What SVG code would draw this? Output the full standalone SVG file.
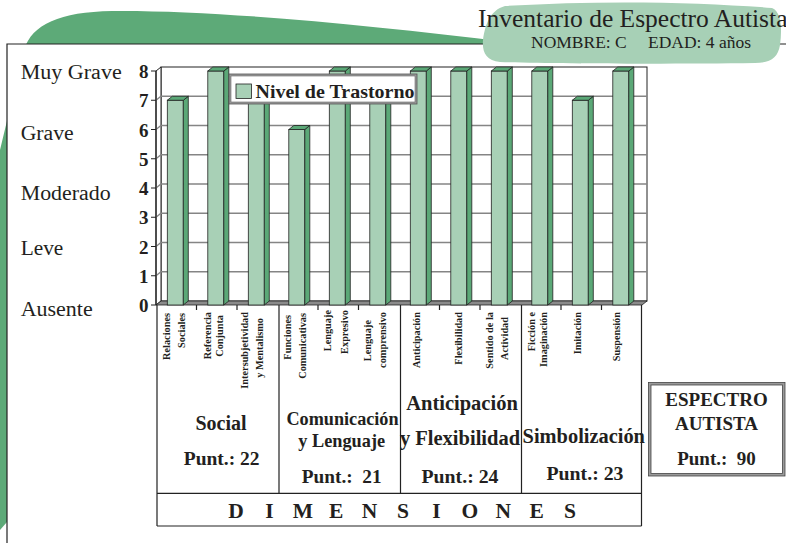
<svg xmlns="http://www.w3.org/2000/svg" width="786" height="543" viewBox="0 0 786 543">
<style>
.serif{font-family:"Liberation Serif","Times New Roman",serif;fill:#231f20}
.lv{font-size:20px}
.yl{font-size:19px;font-weight:bold;text-anchor:end}
.cat{font-size:10.3px;font-weight:bold;text-anchor:end}
.dim{font-weight:bold;text-anchor:middle}
.bf{fill:#a8d0b6;stroke:#222;stroke-width:0.8}
.bs{fill:#5ba877;stroke:#222;stroke-width:0.8}
.grid{stroke:#858585;stroke-width:1.3;fill:none}
.ln{stroke:#222;stroke-width:1.2;fill:none}
</style>
<defs>
<g id="b8"><rect class="bf" x="0" y="71" width="16" height="234"/><polygon class="bs" points="16,305 16,71 21,67 21,301"/><polygon class="bs" points="0,71 16,71 21,67 5,67"/></g>
<g id="b7"><rect class="bf" x="0" y="100.25" width="16" height="204.75"/><polygon class="bs" points="16,305 16,100.25 21,96.25 21,301"/><polygon class="bs" points="0,100.25 16,100.25 21,96.25 5,96.25"/></g>
<g id="b6"><rect class="bf" x="0" y="129.5" width="16" height="175.5"/><polygon class="bs" points="16,305 16,129.5 21,125.5 21,301"/><polygon class="bs" points="0,129.5 16,129.5 21,125.5 5,125.5"/></g>
</defs>

<g id="background">
<path d="M0,150 L24,50 C32,24 60,12 112,11 C220,10 380,26 540,46 L540,60 L7,60 L7,522 L0,530 Z" fill="#5daa78"/>
<rect x="7" y="44" width="779" height="499" fill="#fff"/>
<path d="M7,543 V44 H786" class="ln" stroke-width="1"/>
<path d="M505,6 C600,0 700,2 772,8 C782,12 782,30 780,45 C778,58 770,63 755,63 C680,64 560,64 500,62 C486,61 482,52 483,40 C485,25 490,10 505,6 Z" fill="#a7d0b6"/>
</g>

<g id="header">
<text class="serif" x="478" y="27" font-size="25.5">Inventario de Espectro Autista</text>
<text class="serif" x="531" y="47.5" font-size="17.5">NOMBRE: C</text>
<text class="serif" x="648" y="47.5" font-size="17.5">EDAD: 4 años</text>
</g>

<g id="levels">
<text class="serif lv" x="20.7" y="79.3" textLength="101" lengthAdjust="spacingAndGlyphs">Muy Grave</text>
<text class="serif lv" x="20.7" y="140" textLength="53" lengthAdjust="spacingAndGlyphs">Grave</text>
<text class="serif lv" x="20.7" y="200" textLength="90" lengthAdjust="spacingAndGlyphs">Moderado</text>
<text class="serif lv" x="20.7" y="255" textLength="42.6" lengthAdjust="spacingAndGlyphs">Leve</text>
<text class="serif lv" x="20.7" y="316" textLength="72" lengthAdjust="spacingAndGlyphs">Ausente</text>
</g>

<g id="chart">
<rect x="161" y="67" width="486" height="234" fill="#fff" stroke="#222" stroke-width="1"/>
<polygon points="156,71 161,67 161,301 156,305" fill="#fff" stroke="#222" stroke-width="1"/>
<path class="grid" d="M156,275.75 L161,271.75 H647 M156,246.5 L161,242.5 H647 M156,217.25 L161,213.25 H647 M156,188 L161,184 H647 M156,158.75 L161,154.75 H647 M156,129.5 L161,125.5 H647 M156,100.25 L161,96.25 H647"/>
<polygon points="156,305 642,305 647,301 161,301" fill="#8a8a8a" stroke="#222" stroke-width="0.8"/>
<use href="#b7" x="167.3"/>
<use href="#b8" x="207.8"/>
<use href="#b7" x="248.3"/>
<use href="#b6" x="288.8"/>
<use href="#b8" x="329.3"/>
<use href="#b7" x="369.8"/>
<use href="#b8" x="410.3"/>
<use href="#b8" x="450.8"/>
<use href="#b8" x="491.3"/>
<use href="#b8" x="531.8"/>
<use href="#b7" x="572.3"/>
<use href="#b8" x="612.8"/>
<path class="ln" stroke-width="1" d="M156,71 V305 M151,71 H156 M151,100.25 H156 M151,129.5 H156 M151,158.75 H156 M151,188 H156 M151,217.25 H156 M151,246.5 H156 M151,275.75 H156 M151,305 H156"/>
<path class="ln" stroke-width="1" d="M196.5,305 V310 M237,305 V310 M318,305 V310 M358.5,305 V310 M439.5,305 V310 M480,305 V310 M561,305 V310 M601.5,305 V310"/>
<text class="serif yl" x="148.5" y="78">8</text>
<text class="serif yl" x="148.5" y="107.25">7</text>
<text class="serif yl" x="148.5" y="136.5">6</text>
<text class="serif yl" x="148.5" y="165.75">5</text>
<text class="serif yl" x="148.5" y="195">4</text>
<text class="serif yl" x="148.5" y="224.25">3</text>
<text class="serif yl" x="148.5" y="253.5">2</text>
<text class="serif yl" x="148.5" y="282.75">1</text>
<text class="serif yl" x="148.5" y="312">0</text>
</g>

<g id="legend">
<rect x="229" y="74" width="188" height="30" fill="#9a9a9a" stroke="#555" stroke-width="0.8"/>
<rect x="231" y="76" width="184" height="26" fill="#fff" stroke="#666" stroke-width="0.6"/>
<rect class="bf" x="236" y="84" width="15.5" height="14.5"/>
<text class="serif" x="255.5" y="97.5" font-size="19.5" font-weight="bold" textLength="159" lengthAdjust="spacingAndGlyphs">Nivel de Trastorno</text>
</g>

<g id="categories">
<text class="serif cat" transform="translate(169.5,313) rotate(-90)">Relaciones</text>
<text class="serif cat" transform="translate(185,313) rotate(-90)">Sociales</text>
<text class="serif cat" transform="translate(210.5,312) rotate(-90)">Referencia</text>
<text class="serif cat" transform="translate(222.5,315) rotate(-90)">Conjunta</text>
<text class="serif cat" transform="translate(248,312) rotate(-90)">Intersubjetividad</text>
<text class="serif cat" transform="translate(263,318) rotate(-90)">y Mentalismo</text>
<text class="serif cat" transform="translate(291,315) rotate(-90)">Funciones</text>
<text class="serif cat" transform="translate(305.5,313) rotate(-90)">Comunicativas</text>
<text class="serif cat" transform="translate(331,310) rotate(-90)">Lenguaje</text>
<text class="serif cat" transform="translate(347.5,310) rotate(-90)">Expresivo</text>
<text class="serif cat" transform="translate(371,320) rotate(-90)">Lenguaje</text>
<text class="serif cat" transform="translate(386,312) rotate(-90)">comprensivo</text>
<text class="serif cat" transform="translate(420,312) rotate(-90)">Anticipación</text>
<text class="serif cat" transform="translate(461.5,312) rotate(-90)">Flexibilidad</text>
<text class="serif cat" transform="translate(492.5,312) rotate(-90)">Sentido de la</text>
<text class="serif cat" transform="translate(507.5,317) rotate(-90)">Actividad</text>
<text class="serif cat" transform="translate(534.5,312) rotate(-90)">Ficción e</text>
<text class="serif cat" transform="translate(547,312) rotate(-90)">Imaginación</text>
<text class="serif cat" transform="translate(580.5,312) rotate(-90)">Imitación</text>
<text class="serif cat" transform="translate(619.5,312) rotate(-90)">Suspensión</text>
</g>

<g id="table">
<path class="ln" d="M157,305 V526 M641.5,305 V526 M157,493.3 H641.5 M157,526 H641.5 M279,305 V493.3 M400.5,305 V493.3 M521.5,305 V493.3"/>
</g>

<g id="dim-social">
<text class="serif dim" x="221" y="430" font-size="20">Social</text>
<text class="serif dim" x="221.7" y="465" font-size="19.5">Punt.: 22</text>
</g>
<g id="dim-comunicacion">
<text class="serif dim" x="342.5" y="424.5" font-size="18.2">Comunicación</text>
<text class="serif dim" x="341.7" y="446.5" font-size="18.3">y Lenguaje</text>
<text class="serif dim" x="341.7" y="483" font-size="19.3">Punt.:&#160; 21</text>
</g>
<g id="dim-anticipacion">
<text class="serif dim" x="462" y="409.5" font-size="20.5">Anticipación</text>
<text class="serif dim" x="460" y="445" font-size="20.5">y Flexibilidad</text>
<text class="serif dim" x="460" y="483" font-size="19.8">Punt.: 24</text>
</g>
<g id="dim-simbolizacion">
<text class="serif dim" x="583.8" y="443" font-size="20.4">Simbolización</text>
<text class="serif dim" x="585" y="479.5" font-size="19.8">Punt.: 23</text>
</g>

<g id="dimensiones" class="serif dim" font-size="21.5">
<text x="236" y="518">D</text>
<text x="269.4" y="518">I</text>
<text x="302.8" y="518">M</text>
<text x="336.2" y="518">E</text>
<text x="369.6" y="518">N</text>
<text x="403" y="518">S</text>
<text x="436.4" y="518">I</text>
<text x="469.8" y="518">O</text>
<text x="503.2" y="518">N</text>
<text x="536.6" y="518">E</text>
<text x="570" y="518">S</text>
</g>

<g id="espectro-total">
<rect x="648.5" y="382.5" width="136.5" height="93.5" fill="#9a9a9a" stroke="#444" stroke-width="0.8"/>
<rect x="651" y="385" width="131.5" height="88.5" fill="#fff" stroke="#444" stroke-width="0.8"/>
<text class="serif dim" x="716.5" y="405.5" font-size="19">ESPECTRO</text>
<text class="serif dim" x="716.5" y="430" font-size="19">AUTISTA</text>
<text class="serif dim" x="716.5" y="465" font-size="19">Punt.:&#160; 90</text>
</g>
</svg>
